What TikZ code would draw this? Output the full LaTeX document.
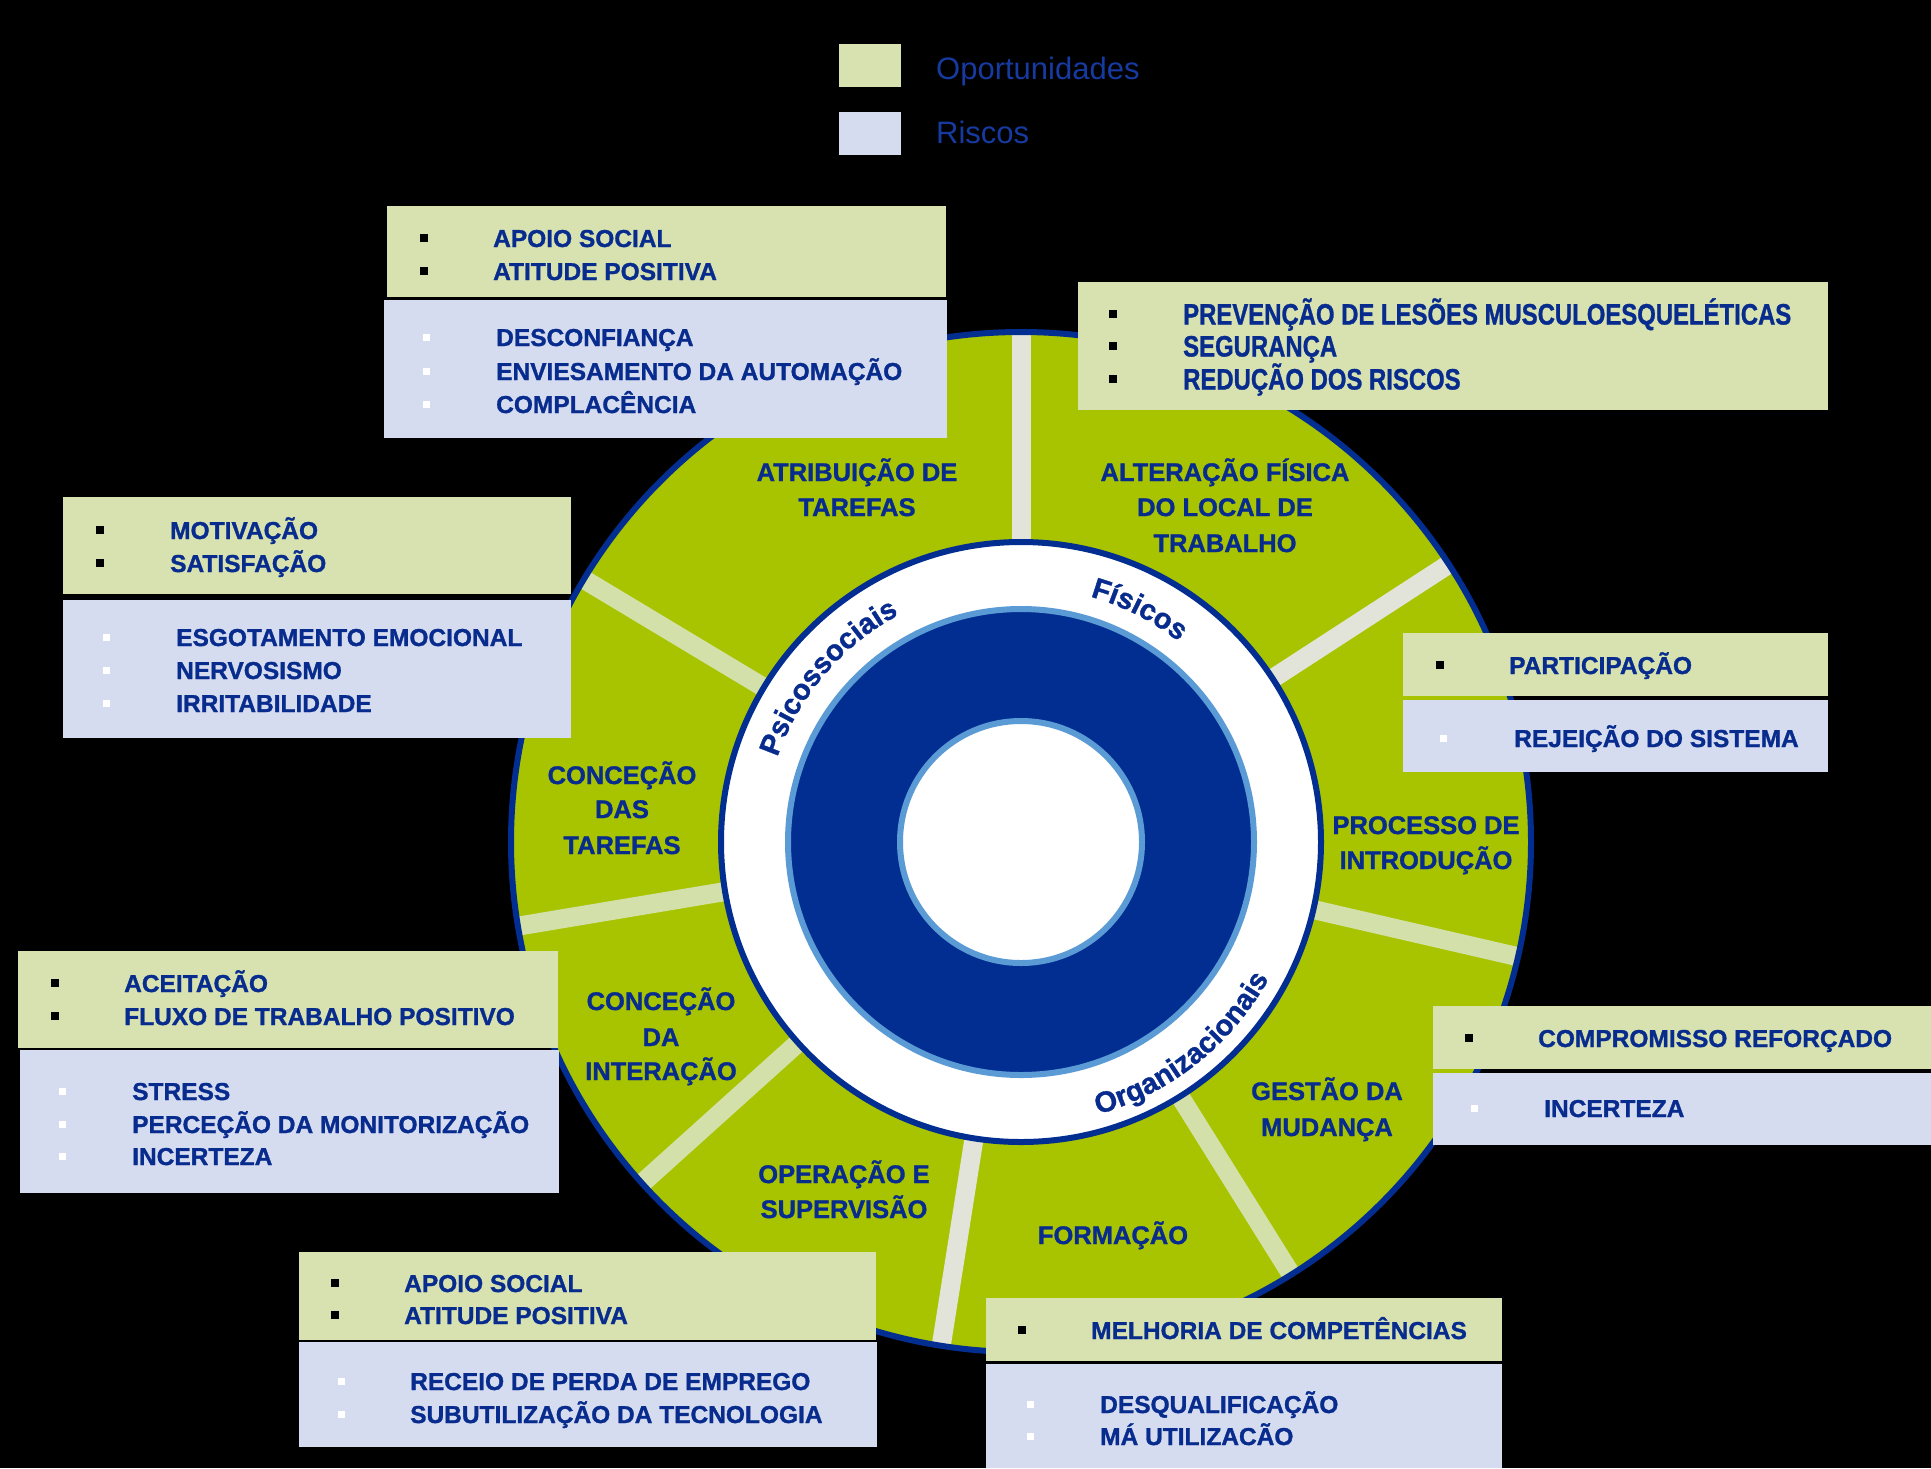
\documentclass[tikz,border=0pt]{standalone}
\usepackage{fontspec}
\setmainfont{Liberation Sans}[BoldFeatures={FakeBold=1.2}]
\usepackage{graphicx}
\usetikzlibrary{decorations.text}
\definecolor{ringgreen}{RGB}{168,196,0}
\definecolor{oppgreen}{RGB}{215,226,176}
\definecolor{riskblue}{RGB}{214,220,240}
\definecolor{txtblue}{RGB}{8,44,142}
\definecolor{darkblue}{RGB}{3,46,145}
\definecolor{lightblue}{RGB}{91,155,213}
\definecolor{legendblue}{RGB}{22,58,160}
\definecolor{spokegray}{RGB}{226,228,218}
\definecolor{spokegreen}{RGB}{212,224,170}
\newcommand\itemfont{\fontsize{24.5}{28}\selectfont\bfseries}
\newcommand\segfont{\fontsize{25.5}{30}\selectfont\bfseries}
\newcommand\condfont{\fontsize{29.5}{33}\selectfont\bfseries}
\newcommand\ringfont{\fontsize{29}{31}\selectfont\bfseries}
\newcommand\legfont{\fontsize{31}{34}\selectfont}
\begin{document}
\begin{tikzpicture}[x=1pt,y=-1pt,
  item/.style={anchor=base west,inner sep=0pt,font=\itemfont,text=txtblue},
  conditem/.style={anchor=base west,inner sep=0pt,font=\condfont,text=txtblue},
  seg/.style={anchor=base,inner sep=0pt,font=\segfont,text=txtblue},
  bk/.style={rectangle,fill=black,minimum size=8pt,inner sep=0pt},
  wh/.style={rectangle,fill=white,minimum size=7pt,inner sep=0pt},
  oppbox/.style={fill=oppgreen},
  riskbox/.style={fill=riskblue},
  legtext/.style={anchor=base west,inner sep=0pt,font=\legfont,text=legendblue}]
\fill[black] (0,0) rectangle (1931,1468);
\useasboundingbox (0,0) rectangle (1931,1468);

% legend
\fill[oppbox] (839,44) rectangle (901,87);
\fill[riskbox] (839,112) rectangle (901,155);
\node[legtext] (lego) at (936,79) {Oportunidades};
\node[legtext] (legr) at (936,143) {Riscos};

% wheel
\begin{scope}[shift={(1021,842)}]
  \fill[ringgreen] (0,0) circle[radius=510pt];
  \foreach \a/\c in {90/spokegray,33/spokegray,-13/spokegreen,-58/spokegreen,-99/spokegray,222/spokegreen,189.5/spokegreen,149/spokegreen}
    \draw[line width=19pt,\c] (\a:296pt) -- (\a:509pt);
  \draw[darkblue,line width=6pt] (0,0) circle[radius=510pt];
  \filldraw[fill=white,draw=darkblue,line width=6pt] (0,0) circle[radius=300pt];
  \filldraw[fill=darkblue,draw=lightblue,line width=6pt] (0,0) circle[radius=233pt];
  \filldraw[fill=white,draw=lightblue,line width=6pt] (0,0) circle[radius=121pt];
  \path[decorate,decoration={text along path,text align=center,text color=txtblue,
      text={|\ringfont|Psicossociais}}]
      (175:258pt) arc[start angle=175,end angle=104,radius=258pt];
  \path[decorate,decoration={text along path,text align=center,text color=txtblue,
      text={|\ringfont|Físicos}}]
      (100:255pt) arc[start angle=100,end angle=26,radius=255pt];
  \path[decorate,decoration={text along path,text align=center,text color=txtblue,
      text={|\ringfont|Organizacionais}}]
      (-100:283pt) arc[start angle=-100,end angle=-3,radius=283pt];
\end{scope}

% segment labels
\node[seg] (s1a) at (857,481) {ATRIBUIÇÃO DE};
\node[seg] (s1b) at (857,516) {TAREFAS};
\node[seg] (s2a) at (1225,481) {ALTERAÇÃO FÍSICA};
\node[seg] (s2b) at (1225,516) {DO LOCAL DE};
\node[seg] (s2c) at (1225,552) {TRABALHO};
\node[seg] (s3a) at (1426,834) {PROCESSO DE};
\node[seg] (s3b) at (1426,869) {INTRODUÇÃO};
\node[seg] (s4a) at (1327,1100) {GESTÃO DA};
\node[seg] (s4b) at (1327,1136) {MUDANÇA};
\node[seg] (s5a) at (1113,1244) {FORMAÇÃO};
\node[seg] (s6a) at (844,1183) {OPERAÇÃO E};
\node[seg] (s6b) at (844,1218) {SUPERVISÃO};
\node[seg] (s7a) at (661,1010) {CONCEÇÃO};
\node[seg] (s7b) at (661,1046) {DA};
\node[seg] (s7c) at (661,1080) {INTERAÇÃO};
\node[seg] (s8a) at (622,784) {CONCEÇÃO};
\node[seg] (s8b) at (622,818) {DAS};
\node[seg] (s8c) at (622,854) {TAREFAS};

% box 1 (top centre)
\fill[oppbox] (387,206) rectangle (946,297);
\fill[riskbox] (384,300) rectangle (947,438);
\node[bk] (b1a) at (424,238) {};
\node[bk] (b1b) at (424,271) {};
\node[item] (t1a) at (493,247) {APOIO SOCIAL};
\node[item] (t1b) at (493,280) {ATITUDE POSITIVA};
\node[wh] (b1c) at (426,337) {};
\node[wh] (b1d) at (426,371) {};
\node[wh] (b1e) at (426,404) {};
\node[item] (t1c) at (496,346) {DESCONFIANÇA};
\node[item] (t1d) at (496,380) {ENVIESAMENTO DA AUTOMAÇÃO};
\node[item] (t1e) at (496,413) {COMPLACÊNCIA};

% box 2 (top right)
\fill[oppbox] (1078,282) rectangle (1828,410);
\node[bk] (b2a) at (1113,314) {};
\node[bk] (b2b) at (1113,346) {};
\node[bk] (b2c) at (1113,379) {};
\node[conditem] (t2a) at (1183,324.5) {\scalebox{0.81}[1]{PREVENÇÃO DE LESÕES MUSCULOESQUELÉTICAS}};
\node[conditem] (t2b) at (1183,356.5) {\scalebox{0.81}[1]{SEGURANÇA}};
\node[conditem] (t2c) at (1183,389.5) {\scalebox{0.81}[1]{REDUÇÃO DOS RISCOS}};

% box 3 (left upper)
\fill[oppbox] (63,497) rectangle (571,594);
\fill[riskbox] (63,600) rectangle (571,738);
\node[bk] (b3a) at (100,530) {};
\node[bk] (b3b) at (100,563) {};
\node[item] (t3a) at (170,539) {MOTIVAÇÃO};
\node[item] (t3b) at (170,572) {SATISFAÇÃO};
\node[wh] (b3c) at (106,637) {};
\node[wh] (b3d) at (106,670) {};
\node[wh] (b3e) at (106,703) {};
\node[item] (t3c) at (176,646) {ESGOTAMENTO EMOCIONAL};
\node[item] (t3d) at (176,679) {NERVOSISMO};
\node[item] (t3e) at (176,712) {IRRITABILIDADE};

% box 4 (right)
\fill[oppbox] (1403,633) rectangle (1828,696);
\fill[riskbox] (1403,700) rectangle (1828,772);
\node[bk] (b4a) at (1440,665) {};
\node[item] (t4a) at (1509,674) {PARTICIPAÇÃO};
\node[wh] (b4b) at (1443,738) {};
\node[item] (t4b) at (1514,747) {REJEIÇÃO DO SISTEMA};

% box 5 (left middle)
\fill[oppbox] (18,951) rectangle (558,1048);
\fill[riskbox] (20,1050) rectangle (559,1193);
\node[bk] (b5a) at (55,983) {};
\node[bk] (b5b) at (55,1016) {};
\node[item] (t5a) at (124,992) {ACEITAÇÃO};
\node[item] (t5b) at (124,1025) {FLUXO DE TRABALHO POSITIVO};
\node[wh] (b5c) at (62,1091) {};
\node[wh] (b5d) at (62,1124) {};
\node[wh] (b5e) at (62,1156) {};
\node[item] (t5c) at (132,1100) {STRESS};
\node[item] (t5d) at (132,1133) {PERCEÇÃO DA MONITORIZAÇÃO};
\node[item] (t5e) at (132,1165) {INCERTEZA};

% box 6 (right lower)
\fill[oppbox] (1433,1006) rectangle (1931,1069);
\fill[riskbox] (1433,1073) rectangle (1931,1145);
\node[bk] (b6a) at (1469,1038) {};
\node[item] (t6a) at (1538,1047) {COMPROMISSO REFORÇADO};
\node[wh] (b6b) at (1474,1108) {};
\node[item] (t6b) at (1544,1117) {INCERTEZA};

% box 7 (bottom left)
\fill[oppbox] (299,1252) rectangle (876,1340);
\fill[riskbox] (299,1342) rectangle (877,1447);
\node[bk] (b7a) at (335,1283) {};
\node[bk] (b7b) at (335,1315) {};
\node[item] (t7a) at (404,1292) {APOIO SOCIAL};
\node[item] (t7b) at (404,1324) {ATITUDE POSITIVA};
\node[wh] (b7c) at (341,1381) {};
\node[wh] (b7d) at (341,1414) {};
\node[item] (t7c) at (410,1390) {RECEIO DE PERDA DE EMPREGO};
\node[item] (t7d) at (410,1423) {SUBUTILIZAÇÃO DA TECNOLOGIA};

% box 8 (bottom right)
\fill[oppbox] (986,1298) rectangle (1502,1361);
\fill[riskbox] (986,1364) rectangle (1502,1468);
\node[bk] (b8a) at (1022,1330) {};
\node[item] (t8a) at (1091,1339) {MELHORIA DE COMPETÊNCIAS};
\node[wh] (b8b) at (1030,1404) {};
\node[wh] (b8c) at (1030,1436) {};
\node[item] (t8b) at (1100,1413) {DESQUALIFICAÇÃO};
\node[item] (t8c) at (1100,1445) {MÁ UTILIZACÃO};
\end{tikzpicture}
\end{document}
